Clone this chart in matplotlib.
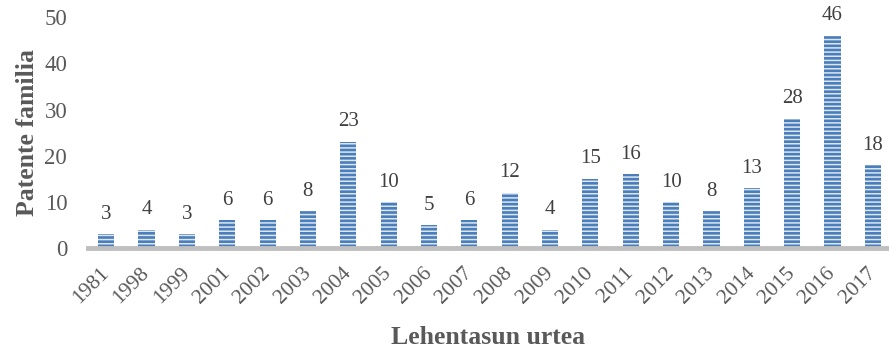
import matplotlib.pyplot as plt

plt.rcParams['font.family'] = ['Liberation Serif', 'DejaVu Serif']
plt.rcParams['hatch.linewidth'] = 1.1

urteak = ['1981', '1998', '1999', '2001', '2002', '2003', '2004', '2005', '2006', '2007',
          '2008', '2009', '2010', '2011', '2012', '2013', '2014', '2015', '2016', '2017']
familiak = [3, 4, 3, 6, 6, 8, 23, 10, 5, 6, 12, 4, 15, 16, 10, 8, 13, 28, 46, 18]

fig = plt.figure(figsize=(8.89, 3.49), dpi=100)
ax = fig.add_axes([0.099, 0.289, 0.901, 0.662])

x = range(len(urteak))
barrak = ax.bar(x, familiak, width=0.4, color='#4a7ebb', edgecolor='#dce6f2',
                linewidth=0, hatch='----', zorder=2)

# balioak barren gainean
for i, v in enumerate(familiak):
    ax.annotate(str(v), (i, v), xytext=(0, 7.5), textcoords='offset points',
                ha='center', va='bottom', fontsize=15, color='#404040')

ax.set_ylim(0, 50)
ax.set_xlim(-0.45, 19.4)
ax.set_yticks([0, 10, 20, 30, 40, 50])
ax.set_xticks(list(x))
ax.set_xticklabels(urteak, rotation=45, ha='right', va='center', rotation_mode='anchor')
ax.tick_params(axis='y', length=0, pad=15, labelsize=16.5, labelcolor='#595959')
ax.tick_params(axis='x', length=0, pad=16, labelsize=15.5, labelcolor='#595959')

for s in ['top', 'right', 'left']:
    ax.spines[s].set_visible(False)
ax.spines['bottom'].set_color('#bfbfbf')
ax.spines['bottom'].set_linewidth(3.5)
ax.spines['bottom'].set_zorder(3)

ax.set_ylabel('Patente familia', fontsize=18.5, fontweight='bold', color='#595959', labelpad=4)
ax.set_xlabel('Lehentasun urtea', fontsize=18.5, fontweight='bold', color='#595959', labelpad=13)

fig.savefig('out.png', dpi=100)
